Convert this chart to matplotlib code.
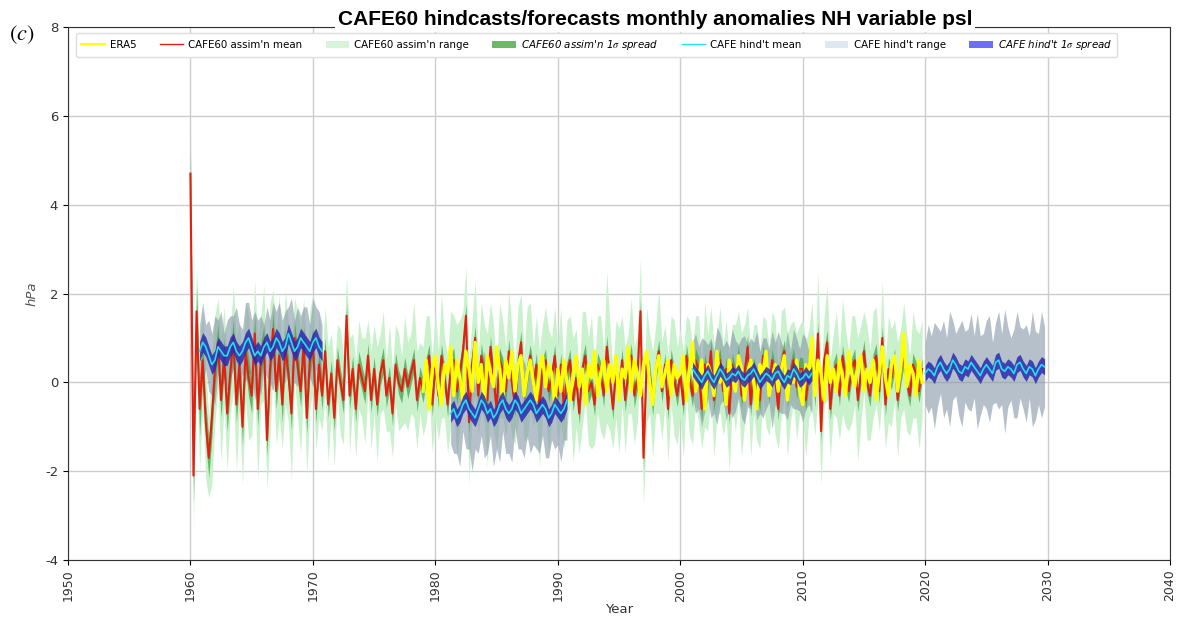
import numpy as np
import matplotlib
matplotlib.use("Agg")
import matplotlib.pyplot as plt
from matplotlib.patches import Patch
from matplotlib.lines import Line2D

plt.rcParams['mathtext.fontset'] = 'stix'

# ---------------- data (quarterly) ----------------
assim_start = 1960.0
assim_mean = [
    4.7, -2.1, 1.6, -0.6, 0.5, -0.9, -1.7, -0.8, 0.3, 0.9, -0.4, 0.6, -0.7, 0.2, 1.0, -0.5, 0.4, -1.0, 0.7, 0.1,
    -0.3, 1.1, -0.6, 0.5, 0.9, -1.3, 0.3, 1.2, -0.2, 0.6, -0.5, 0.8, 0.2, -0.7, 1.0, 0.4, -0.2, 0.9, -0.8, 0.5,
    0.9, -0.6, 0.4, -0.3, 0.7, -0.5, 0.2, -0.8, 0.5, 0.0, -0.4, 1.5, -0.3, 0.3, -0.6, 0.4, 0.1, -0.2, 0.6, -0.4,
    0.3, -0.5, 0.2, 0.5, -0.3, 0.1, -0.7, 0.4, 0.0, -0.2, 0.3, -0.1, 0.2, 0.5, -0.4, 0.1, -0.2, 0.3, 0.6, -0.5,
    0.4, -0.3, 0.6, 0.1, -0.5, 0.3, 0.5, -0.2, 0.2, 0.7, 1.5, -0.9, 0.4, 1.0, -0.3, 0.6, 0.2, -0.4, 0.8, 0.1,
    -0.6, 0.5, 0.3, -0.2, 0.7, 0.0, -0.5, 0.4, 0.9, -0.3, 0.2, 0.6, -0.1, 0.4, -0.6, 0.3, 0.5, -0.2, 0.1, 0.6,
    -0.3, 0.4, -0.6, 0.2, 0.5, -0.4, 0.1, -0.7, 0.3, 0.6, -0.2, 0.0, -0.5, 0.4, 0.2, -0.3, 0.8, 0.1, -0.6, 0.3,
    -0.2, 0.5, -0.4, 0.2, 0.6, -0.3, 0.1, 1.6, -1.7, 0.4, 0.2, -0.5, 0.3, 0.7, -0.2, 0.4, -0.6, 0.5, 0.1, -0.3,
    0.2, -0.5, 0.6, 0.1, -0.3, 0.5, 0.3, -0.6, 0.4, 0.0, 0.7, -0.4, 0.2, 0.5, -0.2, 0.3, -0.7, 0.4, 0.1, 0.6,
    -0.3, 0.2, 0.8, -0.5, 0.3, 0.0, -0.4, 0.6, 0.2, -0.2, 0.5, 0.1, -0.6, 0.4, 0.7, -0.3, 0.2, 0.5, -0.1, 0.3,
    0.3, -0.4, 0.2, 0.6, -0.3, 1.1, -1.1, 0.5, 0.9, -0.6, 0.2, 0.4, -0.3, 0.6, 0.1, -0.2, 0.3, 0.5, -0.4, 0.2,
    0.7, 0.0, -0.3, 0.4, 0.6, -0.2, 1.0, -0.5, 0.3, 0.1, 0.5, -0.4, 0.2, 0.6, 0.0, -0.3, 0.4, 0.2, -0.2, 0.3,
]
assim_range_hw = [
    1.3, 1.2, 1.0, 1.4, 1.1, 1.3, 0.9, 1.5, 1.2, 1.0, 1.4, 1.1, 1.3, 0.9, 1.2, 1.5, 1.0, 1.3, 1.1, 1.4,
    0.9, 1.2, 1.6, 1.0, 1.3, 1.1, 1.5, 0.9, 1.2, 1.4, 1.0, 1.3, 1.1, 1.5, 0.9, 1.2, 1.4, 1.0, 1.3, 1.1,
    1.1, 0.9, 1.2, 0.8, 1.0, 1.3, 0.9, 1.1, 0.8, 1.2, 1.0, 0.9, 1.3, 0.8, 1.1, 1.0, 0.9, 1.2, 0.8, 1.1,
    1.0, 1.3, 0.9, 1.1, 0.8, 1.2, 1.0, 0.9, 1.1, 0.8, 1.2, 1.0, 0.9, 1.3, 1.1, 0.8, 1.0, 1.2, 0.9, 1.1,
    1.2, 1.0, 1.4, 0.9, 1.1, 1.3, 1.0, 1.5, 1.2, 0.9, 1.1, 1.4, 1.0, 1.3, 0.9, 1.2, 1.1, 1.5, 1.0, 1.2,
    0.9, 1.3, 1.1, 1.0, 1.4, 1.2, 0.9, 1.3, 1.1, 1.0, 1.5, 1.2, 0.9, 1.1, 1.3, 1.0, 1.2, 1.4, 0.9, 1.1,
    1.1, 1.3, 0.9, 1.2, 1.0, 1.4, 1.1, 0.9, 1.3, 1.0, 1.2, 1.5, 0.9, 1.1, 1.3, 1.0, 1.7, 1.2, 0.9, 1.1,
    1.4, 1.0, 1.2, 0.9, 1.3, 1.1, 1.0, 1.2, 1.1, 1.3, 0.9, 1.2, 1.0, 1.4, 1.1, 0.9, 1.2, 1.0, 1.3, 1.1,
    1.0, 1.2, 0.9, 1.3, 1.1, 1.0, 1.2, 0.9, 1.4, 1.1, 1.0, 1.3, 0.9, 1.2, 1.0, 1.1, 1.3, 0.9, 1.2, 1.0,
    1.4, 1.1, 0.9, 1.2, 1.0, 1.3, 1.1, 0.9, 1.2, 1.0, 1.1, 1.3, 0.9, 1.2, 1.0, 1.4, 1.1, 0.9, 1.2, 1.0,
    1.1, 1.3, 1.0, 1.2, 0.9, 1.4, 1.2, 1.0, 1.3, 1.1, 0.9, 1.2, 1.0, 1.3, 1.1, 0.9, 1.2, 1.0, 1.4, 1.1,
    0.9, 1.3, 1.0, 1.2, 1.1, 0.9, 1.3, 1.0, 1.2, 1.1, 0.9, 1.3, 1.0, 1.2, 1.1, 0.9, 1.2, 1.0, 1.3, 1.1,
]
assim_sd_annual = [
    0.60, 0.45, 0.40, 0.40, 0.42, 0.40, 0.38, 0.40, 0.37, 0.36,
    0.32, 0.30, 0.30, 0.30, 0.28, 0.28, 0.27, 0.27, 0.26, 0.26,
    0.27, 0.28, 0.26, 0.27, 0.25, 0.26, 0.27, 0.25, 0.26, 0.25,
    0.26, 0.25, 0.27, 0.26, 0.25, 0.26, 0.27, 0.25, 0.26, 0.25,
    0.26, 0.27, 0.25, 0.26, 0.25, 0.27, 0.26, 0.25, 0.26, 0.27,
    0.25, 0.26, 0.27, 0.25, 0.26, 0.25, 0.27, 0.26, 0.25, 0.26,
]

era5_start = 1979.0
era5 = [
    -0.2, 0.5, -0.6, 0.3,
    0.6, -0.1, -0.5, 0.4, 0.2, 0.8, -0.3, 0.5, 0.1, -0.4, 0.7, 0.3, -0.2, 0.9, 0.0, 0.4, -0.5, 0.6, 0.2, -0.1,
    0.8, 0.3, -0.4, 0.5, 0.1, 0.7, -0.2, 0.4, 0.6, -0.3, 0.2, 0.5, 0.0, -0.4, 0.3, 0.6, -0.1, 0.4, 0.2, -0.5,
    0.3, -0.2, 0.5, 0.0, -0.4, 0.2, 0.6, -0.1, 0.3, -0.5, 0.4, 0.1, 0.7, -0.3, 0.2, 0.5, -0.2, 0.4, 0.0, 0.6,
    -0.4, 0.3, 0.1, 0.8, -0.2, 0.5, 0.2, -0.3, 0.4, 0.7, 0.0, -0.5, 0.3, 0.6, -0.1, 0.2, 0.5, -0.3, 0.4, 0.1,
    0.2, 0.6, -0.4, 0.3, 0.9, -0.2, 0.1, 0.5, -0.6, 0.4, 0.2, -0.3, 0.7, 0.0, 0.3, -0.5, 0.5, 0.1, -0.2, 0.6,
    0.3, -0.4, 0.2, 0.5, 0.0, -0.6, 0.4, 0.2, 0.7, -0.3, 0.1, 0.4, -0.2, 0.3, 0.6, -0.4, 0.2, 0.0, 0.5, -0.2,
    -0.5, 0.4, 0.1, 1.0, -0.3, 0.5, 0.2, -0.4, 0.6, 0.0, 0.3, -0.2, 0.5, 0.1, -0.3, 0.7, 0.2, -0.1, 0.4, 0.6,
    -0.2, 0.3, 0.0, 0.5, -0.4, 0.2, 0.8, 0.1, -0.3, 0.4, 0.6, -0.2, 0.3, 1.1, -0.1, 0.4, 0.2, -0.3, 0.5, 0.0,
]

hind_starts = [1960.75, 1981.25, 2001.0, 2020.0]
hind_mean_1 = [0.7, 0.9, 0.8, 0.6, 0.4, 0.5, 0.8, 0.7, 0.6, 0.6, 0.8, 0.9, 0.7, 0.6, 0.7, 0.9, 1.0, 0.8, 0.6, 0.7,
               0.6, 0.8, 0.9, 0.7, 0.8, 1.0, 0.9, 0.7, 0.8, 1.1, 0.9, 0.7, 0.8, 1.0, 0.9, 0.8, 0.7, 0.9, 1.0, 0.8, 0.7]
hind_mean_2 = [-0.7, -0.6, -0.8, -0.7, -0.5, -0.4, -0.6, -0.7, -0.8, -0.6, -0.4, -0.5, -0.7, -0.6, -0.8, -0.7,
               -0.5, -0.4, -0.6, -0.7, -0.6, -0.4, -0.5, -0.7, -0.6, -0.5, -0.4, -0.5, -0.7, -0.6, -0.5, -0.6,
               -0.8, -0.7, -0.5, -0.6, -0.7, -0.6, -0.4]
hind_mean_3 = [0.3, 0.2, 0.1, 0.0, 0.15, 0.25, 0.1, 0.0, 0.15, 0.3, 0.2, 0.05, 0.1, 0.2, 0.15, 0.25, 0.1, 0.05,
               0.15, 0.2, 0.3, 0.15, 0.0, 0.1, 0.2, 0.15, 0.05, 0.2, 0.25, 0.1, 0.0, 0.15, 0.1, 0.3, 0.2, 0.05,
               0.1, 0.2, 0.1, 0.2]
hind_mean_4 = [0.2, 0.3, 0.25, 0.15, 0.35, 0.45, 0.3, 0.2, 0.3, 0.5, 0.4, 0.25, 0.2, 0.35, 0.3, 0.45, 0.35, 0.25,
               0.15, 0.3, 0.4, 0.3, 0.2, 0.45, 0.5, 0.3, 0.25, 0.35, 0.3, 0.2, 0.4, 0.45, 0.3, 0.2, 0.35, 0.3,
               0.15, 0.3, 0.4, 0.35]
hind_range_hw_1 = [0.6, 0.9, 0.5, 0.8, 0.7, 1.0, 0.6, 0.9, 0.5, 0.8, 0.7, 0.6, 1.0, 0.7, 0.5, 0.9, 0.8, 0.6, 1.0,
                   0.7, 0.9, 0.5, 0.8, 0.7, 1.0, 0.6, 0.9, 0.7, 0.8, 0.6, 1.0, 0.7, 0.9, 0.5, 0.8, 0.9, 0.6,
                   1.0, 0.7, 0.8, 0.6]
hind_range_hw_2 = [0.7, 1.0, 0.8, 1.2, 0.6, 1.1, 0.9, 1.3, 0.7, 1.0, 0.8, 1.2, 0.9, 0.6, 1.1, 0.8, 1.3, 0.7, 1.0,
                   0.9, 1.2, 0.6, 1.0, 0.8, 1.1, 0.7, 1.2, 0.9, 0.8, 1.0, 0.7, 1.1, 0.9, 0.6, 1.0, 0.8, 1.1,
                   0.7, 0.9]
hind_range_hw_3 = [0.6, 0.9, 0.7, 1.0, 0.8, 0.6, 0.9, 0.7, 1.1, 0.8, 0.6, 0.9, 0.7, 1.0, 0.8, 0.6, 0.9, 1.0, 0.7,
                   0.8, 0.6, 1.0, 0.7, 0.9, 0.8, 0.6, 1.1, 0.7, 0.9, 0.8, 0.7, 1.0, 0.6, 0.9, 0.8, 0.7, 1.0,
                   0.8, 0.6, 0.9]
hind_range_hw_4 = [0.7, 1.0, 0.8, 1.2, 0.9, 0.7, 1.1, 0.8, 1.3, 0.9, 0.7, 1.0, 1.2, 0.8, 0.9, 1.1, 0.7, 1.3, 0.9,
                   0.8, 1.0, 1.2, 0.7, 0.9, 1.1, 0.8, 1.4, 0.9, 0.7, 1.0, 1.2, 0.8, 0.9, 1.1, 0.7, 1.3, 1.0,
                   0.8, 1.2, 0.9]
hind_sd = [0.22, 0.2, 0.16, 0.18]

hind_means = [hind_mean_1, hind_mean_2, hind_mean_3, hind_mean_4]
hind_hws = [hind_range_hw_1, hind_range_hw_2, hind_range_hw_3, hind_range_hw_4]

x_ticks = [1950, 1960, 1970, 1980, 1990, 2000, 2010, 2020, 2030, 2040]
y_ticks = [-4, -2, 0, 2, 4, 6, 8]
title = "CAFE60 hindcasts/forecasts monthly anomalies NH variable psl"

# ---------------- plot ----------------
fig = plt.figure(figsize=(11.8, 6.18), dpi=100)
ax = fig.add_axes([0.0576, 0.094, 0.934, 0.862])

dt = 0.25
am = np.array(assim_mean)
ax_t = assim_start + dt * np.arange(len(am))
hw = np.array(assim_range_hw)
sd = np.repeat(np.array(assim_sd_annual), 4)

c_green_range = '#c9f2cc'
c_green_sd = '#3f9e45'
c_red = '#e3200f'
c_yellow = '#ffff00'
c_hrange = '#8597a8'
c_hsd = '#2a2ab0'
c_cyan = '#22e0f0'

ax.fill_between(ax_t, am - hw, am + hw, color=c_green_range, lw=0, zorder=1)
for st, m, h in zip(hind_starts, hind_means, hind_hws):
    m = np.array(m); h = np.array(h)
    t = st + dt * np.arange(len(m))
    ax.fill_between(t, m - h, m + h, color=c_hrange, alpha=0.6, lw=0, zorder=2)
ax.fill_between(ax_t, am - sd, am + sd, color=c_green_sd, alpha=0.7, lw=0, zorder=3)
ax.plot(ax_t, am, color=c_red, lw=1.5, zorder=4)
e = np.array(era5)
ax.plot(era5_start + dt * np.arange(len(e)), e, color=c_yellow, lw=2.4, zorder=5)
for st, m, s in zip(hind_starts, hind_means, hind_sd):
    m = np.array(m)
    t = st + dt * np.arange(len(m))
    ax.fill_between(t, m - s, m + s, color=c_hsd, alpha=0.85, lw=0, zorder=6)
    ax.plot(t, m, color=c_cyan, lw=1.2, zorder=7)

ax.set_xlim(1950, 2040)
ax.set_ylim(-4, 8)
ax.set_xticks(x_ticks)
ax.set_xticklabels([str(v) for v in x_ticks], rotation=90, fontsize=9, color='#333333')
ax.set_yticks(y_ticks)
ax.set_yticklabels([str(v) for v in y_ticks], fontsize=9.5, color='#333333')
ax.grid(True, color='#cccccc', lw=1.0)
ax.set_axisbelow(True)
for sp in ax.spines.values():
    sp.set_color('#333333')
ax.set_xlabel('Year', fontsize=9.5, color='#333333', labelpad=1)
ax.set_ylabel('hPa', fontsize=9.5, style='italic', color='#555555', labelpad=5)

ax.text(0.533, 1.004, title, transform=ax.transAxes, ha='center', va='baseline',
        fontsize=15, fontweight='bold', family='Liberation Sans',
        bbox=dict(fc='white', ec='none', pad=2), zorder=20)
fig.text(0.008, 0.935, r'$(c)$', fontsize=16)

handles = [
    Line2D([], [], color=c_yellow, lw=1.5),
    Line2D([], [], color=c_red, lw=1.0),
    Patch(fc='#d6f5d8', ec='none'),
    Patch(fc='#6cb96c', ec='none'),
    Line2D([], [], color=c_cyan, lw=1.0),
    Patch(fc='#dde8f0', ec='none'),
    Patch(fc='#6f6ff2', ec='none'),
]
labels = ["ERA5", "CAFE60 assim'n mean", "CAFE60 assim'n range", r"CAFE60 assim'n 1$\sigma$ spread",
          "CAFE hind't mean", "CAFE hind't range", r"CAFE hind't 1$\sigma$ spread"]
leg = ax.legend(handles, labels, loc='upper left', bbox_to_anchor=(0.003, 0.998), ncol=7,
                fontsize=7.4, frameon=True, framealpha=1, edgecolor='#dddddd',
                handlelength=2.3, handletextpad=0.5, columnspacing=2.25, borderpad=0.45)
for i in (3, 6):
    leg.get_texts()[i].set_fontstyle('italic')
leg.set_zorder(30)

fig.savefig('out.png', dpi=100)
